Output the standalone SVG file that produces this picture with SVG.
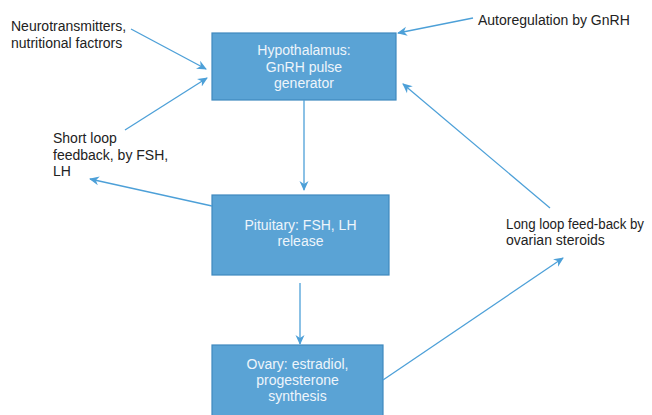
<svg xmlns="http://www.w3.org/2000/svg" width="652" height="415" viewBox="0 0 652 415">
<defs>
<marker id="ah" viewBox="0 0 10 10" refX="9" refY="5" markerWidth="10" markerHeight="10" markerUnits="userSpaceOnUse" orient="auto">
<path d="M0,0.5 L10,5 L0,9.5 L3,5 Z" fill="#4da0d8"/>
</marker>
</defs>
<style>
.box{fill:#5aa3d5;stroke:#3e89bf;stroke-width:1.2}
.bt{font-family:"Liberation Sans",Arial,sans-serif;font-size:14px;fill:#eef5fb;text-anchor:middle}
.lt{font-family:"Liberation Sans",Arial,sans-serif;font-size:14px;fill:#222}
.c{stroke:#4da0d8;stroke-width:1.3;fill:none;marker-end:url(#ah)}
</style>
<rect width="652" height="415" fill="#fff"/>
<g id="hypothalamus">
<rect class="box" x="212" y="33" width="184" height="67"/>
<text class="bt" x="304" y="55">Hypothalamus:</text>
<text class="bt" x="304" y="72">GnRH pulse</text>
<text class="bt" x="304" y="88">generator</text>
</g>
<g id="pituitary">
<rect class="box" x="212" y="195" width="177" height="80"/>
<text class="bt" x="300.5" y="230">Pituitary: FSH, LH</text>
<text class="bt" x="300.5" y="246">release</text>
</g>
<g id="ovary">
<rect class="box" x="212" y="345" width="171" height="75"/>
<text class="bt" x="297.5" y="369">Ovary: estradiol,</text>
<text class="bt" x="297.5" y="385">progesterone</text>
<text class="bt" x="297.5" y="401">synthesis</text>
</g>
<g id="labels">
<text class="lt" x="11" y="31">Neurotransmitters,</text>
<text class="lt" x="11" y="48">nutritional factrors</text>
<text class="lt" x="53" y="143">Short loop</text>
<text class="lt" x="53" y="160">feedback, by FSH,</text>
<text class="lt" x="53" y="176">LH</text>
<text class="lt" x="478" y="25">Autoregulation by GnRH</text>
<text class="lt" x="506" y="229" font-size="13.3" textLength="138" lengthAdjust="spacingAndGlyphs">Long loop feed-back by</text>
<text class="lt" x="506" y="245">ovarian steroids</text>
</g>
<g id="connectors">
<line class="c" x1="304" y1="100" x2="304" y2="190"/>
<line class="c" x1="300" y1="283" x2="300" y2="344"/>
<line class="c" x1="131" y1="29" x2="206" y2="69"/>
<line class="c" x1="125" y1="130" x2="207" y2="78"/>
<line class="c" x1="212" y1="206" x2="90" y2="179"/>
<line class="c" x1="473" y1="18" x2="398" y2="33"/>
<line class="c" x1="550" y1="208" x2="403" y2="84"/>
<line class="c" x1="383" y1="380" x2="563" y2="258"/>
</g>
</svg>
